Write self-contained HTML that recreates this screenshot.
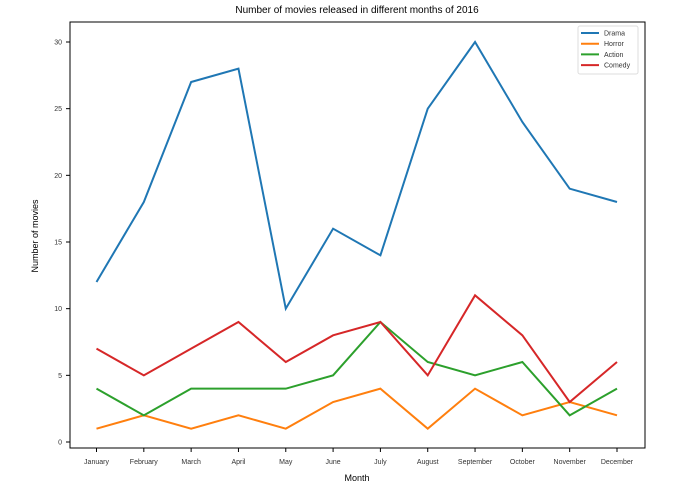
<!DOCTYPE html>
<html><head><meta charset="utf-8"><style>
body{margin:0;background:#fff;font-family:"Liberation Sans",sans-serif}
</style></head><body>
<svg width="692" height="492" id="c" font-family="Liberation Sans, sans-serif">
<text x="357" y="13" font-size="10" text-anchor="middle">Number of movies released in different months of 2016</text>
<text x="357" y="481" font-size="9" text-anchor="middle">Month</text>
<text x="38" y="236" font-size="9" text-anchor="middle" transform="rotate(-90 38 236)">Number of movies</text>
<rect x="70" y="22" width="575" height="426" fill="none" stroke="#000" stroke-width="1"/>
<g id="ticks"></g><g id="lines"></g>
<g>
<rect x="578" y="26" width="60" height="48" fill="#fff" stroke="#ddd" rx="2"/>
</g><g id="leg"></g>
</svg>
<script>
const months=["January","February","March","April","May","June","July","August","September","October","November","December"];
const drama=[12,18,27,28,10,16,14,25,30,24,19,18];
const horror=[1,2,1,2,1,3,4,1,4,2,3,2];
const action=[4,2,4,4,4,5,9,6,5,6,2,4];
const comedy=[7,5,7,9,6,8,9,5,11,8,3,6];
const yTicks=[0,5,10,15,20,25,30];
const series=[["Drama",drama,"#1f77b4"],["Horror",horror,"#ff7f0e"],["Action",action,"#2ca02c"],["Comedy",comedy,"#d62728"]];
const NS="http://www.w3.org/2000/svg";
const xs=i=>96.5+i*(617-96.5)/11;
const ys=v=>442-v*(400/30);
function mk(t,a,p){const e=document.createElementNS(NS,t);for(const k in a)e.setAttribute(k,a[k]);p.appendChild(e);return e;}
const tk=document.getElementById('ticks');
months.forEach((m,i)=>{
 const l=mk('line',{x1:xs(i),x2:xs(i),y1:448,y2:452,stroke:'#000'},tk);
 
 
 const t=mk('text',{x:xs(i),y:464,'font-size':7,'text-anchor':'middle',fill:'#333'},tk);t.textContent=m;
 
 
});
yTicks.forEach(v=>{
 const l=mk('line',{x1:66,x2:70,y1:ys(v),y2:ys(v),stroke:'#000'},tk);
 
 
 const t=mk('text',{x:62,y:ys(v)+2.5,'font-size':7,'text-anchor':'end',fill:'#333'},tk);t.textContent=v;
 
 
});
const lg=document.getElementById('lines'),le=document.getElementById('leg');
series.forEach((s,k)=>{
 const p=mk('polyline',{points:s[1].map((v,i)=>xs(i)+','+ys(v)).join(' '),fill:'none',stroke:s[2],'stroke-width':2},lg);
 
 
 const y=33+k*10.7;
 const l=mk('line',{x1:581,x2:599,y1:y,y2:y,stroke:s[2],'stroke-width':2},le);
 
 
 const t=mk('text',{x:604,y:y+2.5,'font-size':7,fill:'#333'},le);t.textContent=s[0];
 
 
});
</script>
</body></html>
